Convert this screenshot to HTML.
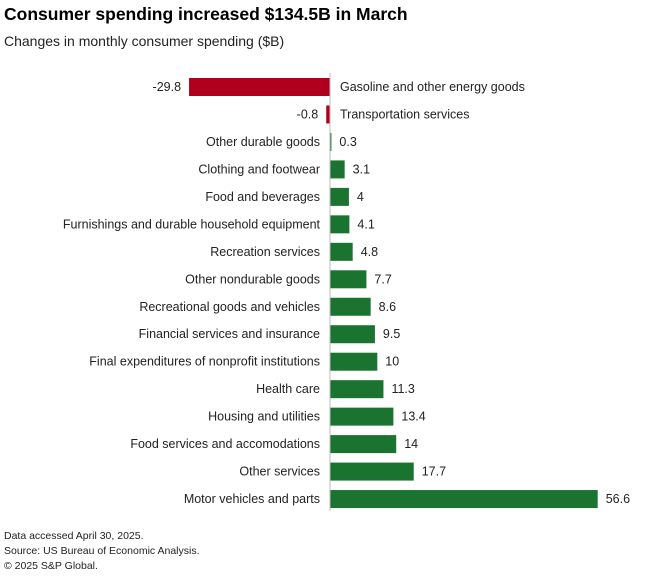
<!DOCTYPE html>
<html><head><meta charset="utf-8"><style>
body{margin:0;background:#fff;font-family:"Liberation Sans",sans-serif;}
#wrap{position:relative;width:660px;height:584px;}
.t{position:absolute;left:4px;top:4px;font-size:17.5px;font-weight:bold;color:#000;}
.s{position:absolute;left:4px;top:33px;font-size:14px;color:#222;}
.f{position:absolute;left:4px;font-size:10.5px;color:#222;}
svg text{font-family:"Liberation Sans",sans-serif;font-size:12.5px;fill:#222;}
</style></head><body>
<div id="wrap">
<div class="t">Consumer spending increased $134.5B in March</div>
<div class="s">Changes in monthly consumer spending ($B)</div>
<svg id="c" width="660" height="584" style="position:absolute;left:0;top:0"></svg>
<div class="f" style="top:530px">Data accessed April 30, 2025.</div>
<div class="f" style="top:545px">Source: US Bureau of Economic Analysis.</div>
<div class="f" style="top:560px">© 2025 S&amp;P Global.</div>
</div>
<script>
const categories=["Gasoline and other energy goods","Transportation services","Other durable goods","Clothing and footwear","Food and beverages","Furnishings and durable household equipment","Recreation services","Other nondurable goods","Recreational goods and vehicles","Financial services and insurance","Final expenditures of nonprofit institutions","Health care","Housing and utilities","Food services and accomodations","Other services","Motor vehicles and parts"];
const values=[-29.8,-0.8,0.3,3.1,4,4.1,4.8,7.7,8.6,9.5,10,11.3,13.4,14,17.7,56.6];
const labels=["-29.8","-0.8","0.3","3.1","4","4.1","4.8","7.7","8.6","9.5","10","11.3","13.4","14","17.7","56.6"];
const svg=document.getElementById('c');const NS='http://www.w3.org/2000/svg';
const x0=330,k=267.7/56.6;
const x=v=>x0+v*k;
const y=i=>87+i*27.47;
function mk(t,a){const e=document.createElementNS(NS,t);for(const n in a)e.setAttribute(n,a[n]);svg.appendChild(e);return e;}
values.forEach((v,i)=>{
 const r=mk('rect',{x:Math.min(x(0),x(v)),y:y(i)-9,width:Math.max(Math.abs(x(v)-x(0)),1),height:18,fill:v<0?'#b0001e':'#1a7430'});
 
 
 const cl=mk('text',{x:v<0?x0+10:x0-10,y:y(i)+4,'text-anchor':v<0?'start':'end'});cl.textContent=categories[i];
 
 
 const vl=mk('text',{x:v<0?x(v)-8:x(v)+8,y:y(i)+4,'text-anchor':v<0?'end':'start'});vl.textContent=labels[i];
 
 
});
const ax=mk('line',{x1:x0,x2:x0,y1:73,y2:511,stroke:'#bbb','stroke-width':1});


</script>
</body></html>
